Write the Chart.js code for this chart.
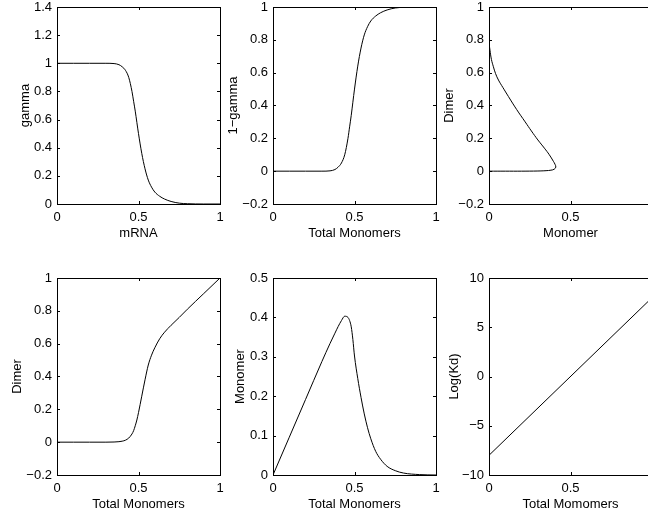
<!DOCTYPE html>
<html>
<head>
<meta charset="utf-8">
<title>gamma panels</title>
<script src="https://cdn.jsdelivr.net/npm/chart.js@4.4.0/dist/chart.umd.min.js"></script>
<style>
  html, body { margin: 0; padding: 0; background: #fff; overflow: hidden; }
  #wrap { position: relative; width: 648px; height: 519px; overflow: hidden; }
  #wrap canvas { position: absolute; }
</style>
</head>
<body>
<div id="wrap"></div>
<script>
// x grid (mRNA / total monomers), shared by the function panels
var total = [0, 0.1, 0.2, 0.3, 0.35, 0.38, 0.4, 0.42, 0.44, 0.46, 0.47, 0.48, 0.49, 0.5,
             0.52, 0.54, 0.56, 0.58, 0.6, 0.63, 0.66, 0.7, 0.75, 0.8, 0.9, 1];
var gamma = [1, 1, 1, 1, 0.998, 0.99, 0.975, 0.95, 0.9, 0.8, 0.73, 0.66, 0.58, 0.5,
             0.36, 0.25, 0.17, 0.12, 0.085, 0.055, 0.035, 0.018, 0.006, 0.002, 0, 0];
var oneMinusGamma = [0, 0, 0, 0, 0.002, 0.01, 0.025, 0.05, 0.1, 0.2, 0.27, 0.34, 0.42, 0.5,
                     0.64, 0.75, 0.83, 0.88, 0.915, 0.945, 0.965, 0.982, 0.994, 0.998, 1, 1];
var dimer = [0, 0, 0, 0, 0.001, 0.003, 0.006, 0.012, 0.025, 0.05, 0.07, 0.1, 0.135, 0.18,
             0.28, 0.38, 0.47, 0.53, 0.575, 0.63, 0.67, 0.712, 0.76, 0.81, 0.905, 1];
var monomer = [0, 0.096, 0.192, 0.288, 0.334, 0.36, 0.377, 0.392, 0.403, 0.4, 0.392, 0.376, 0.344, 0.302,
               0.245, 0.197, 0.155, 0.12, 0.092, 0.06, 0.04, 0.022, 0.011, 0.005, 0.001, 0];

// dimer against monomer (goes out along 0 and comes back up)
var curveMonomer = [0, 0.1, 0.2, 0.3, 0.35, 0.38, 0.4, 0.41, 0.405, 0.395, 0.37, 0.34, 0.3, 0.26,
                    0.222, 0.17, 0.119, 0.085, 0.058, 0.04, 0.027, 0.015, 0.006, 0.002, 0];
var curveDimer = [0, 0, 0, 0.001, 0.003, 0.006, 0.012, 0.025, 0.042, 0.06, 0.1, 0.14, 0.19, 0.245,
                  0.3, 0.375, 0.455, 0.51, 0.555, 0.595, 0.636, 0.68, 0.737, 0.77, 0.81];

var kdX = [0, 1];
var logKd = [-8, 8];

// ticks
var xTicks = [0, 0.5, 1];
var xTickLabels = ['0', '0.5', '1'];
var ticksGamma = [0, 0.2, 0.4, 0.6, 0.8, 1, 1.2, 1.4];
var labelsGamma = ['0', '0.2', '0.4', '0.6', '0.8', '1', '1.2', '1.4'];
var ticksFrac = [-0.2, 0, 0.2, 0.4, 0.6, 0.8, 1];
var labelsFrac = ['\u22120.2', '0', '0.2', '0.4', '0.6', '0.8', '1'];
var ticksMono = [0, 0.1, 0.2, 0.3, 0.4, 0.5];
var labelsMono = ['0', '0.1', '0.2', '0.3', '0.4', '0.5'];
var ticksKd = [-10, -5, 0, 5, 10];
var labelsKd = ['\u221210', '\u22125', '0', '5', '10'];

var FONT = '"Liberation Sans", Arial, Helvetica, sans-serif';

var panels = [
  { col: 0, row: 0, x: total, y: gamma, yMin: 0, yMax: 1.4, yT: ticksGamma, yL: labelsGamma,
    xTitle: 'mRNA', yTitle: 'gamma', titleX: 25.5, mono: true },
  { col: 1, row: 0, x: total, y: oneMinusGamma, yMin: -0.2, yMax: 1, yT: ticksFrac, yL: labelsFrac,
    xTitle: 'Total Monomers', yTitle: '1\u2212gamma', titleX: 17, mono: true },
  { col: 2, row: 0, x: curveMonomer, y: curveDimer, yMin: -0.2, yMax: 1, yT: ticksFrac, yL: labelsFrac,
    xTitle: 'Monomer', yTitle: 'Dimer', titleX: 17.5, mono: false },
  { col: 0, row: 1, x: total, y: dimer, yMin: -0.2, yMax: 1, yT: ticksFrac, yL: labelsFrac,
    xTitle: 'Total Monomers', yTitle: 'Dimer', titleX: 17.5, mono: true },
  { col: 1, row: 1, x: total, y: monomer, yMin: 0, yMax: 0.5, yT: ticksMono, yL: labelsMono,
    xTitle: 'Total Monomers', yTitle: 'Monomer', titleX: 24.3, mono: true },
  { col: 2, row: 1, x: kdX, y: logKd, yMin: -10, yMax: 10, yT: ticksKd, yL: labelsKd,
    xTitle: 'Total Momomers', yTitle: 'Log(Kd)', titleX: 22.5, mono: true }
];

// box round the plot area with small inward ticks on all four sides
var frame = {
  id: 'frame',
  afterDraw: function (chart) {
    var ctx = chart.ctx, a = chart.chartArea;
    var sx = chart.scales.x, sy = chart.scales.y;
    var len = 3;
    ctx.save();
    ctx.strokeStyle = '#000';
    ctx.lineWidth = 1;
    ctx.strokeRect(a.left + 0.5, a.top + 0.5, a.right - a.left, a.bottom - a.top);
    ctx.beginPath();
    sx.ticks.forEach(function (t) {
      var px = Math.round(sx.getPixelForValue(t.value)) + 0.5;
      ctx.moveTo(px, a.bottom); ctx.lineTo(px, a.bottom - len);
      ctx.moveTo(px, a.top); ctx.lineTo(px, a.top + len);
    });
    sy.ticks.forEach(function (t) {
      var py = Math.round(sy.getPixelForValue(t.value)) + 0.5;
      ctx.moveTo(a.left, py); ctx.lineTo(a.left + len, py);
      ctx.moveTo(a.right, py); ctx.lineTo(a.right - len, py);
    });
    ctx.stroke();
    ctx.restore();
  }
};

var wrap = document.getElementById('wrap');

panels.forEach(function (p) {
  var cv = document.createElement('canvas');
  cv.width = 230;
  cv.height = 260;
  cv.style.left = (p.col * 216) + 'px';
  cv.style.top = (p.row * 271) + 'px';
  wrap.appendChild(cv);

  var pts = p.x.map(function (v, i) { return { x: v, y: p.y[i] }; });
  var font = { family: FONT, size: 13 };

  new Chart(cv, {
    type: 'scatter',
    data: {
      datasets: [{
        data: pts,
        showLine: true,
        borderColor: '#000',
        borderWidth: 1,
        pointRadius: 0,
        tension: p.mono ? 0 : 0.4,
        cubicInterpolationMode: p.mono ? 'monotone' : 'default'
      }]
    },
    options: {
      responsive: false,
      animation: false,
      events: [],
      layout: { padding: { left: 0, top: 7, right: 10, bottom: 0 } },
      plugins: { legend: { display: false }, tooltip: { enabled: false } },
      scales: {
        x: {
          type: 'linear', min: 0, max: 1,
          grid: { display: false, drawTicks: false },
          border: { display: false },
          afterBuildTicks: function (s) { s.ticks = xTicks.map(function (v) { return { value: v }; }); },
          afterFit: function (s) { s.height = 56; s.paddingLeft = 0; s.paddingRight = 0; },
          ticks: {
            padding: 5.5, maxRotation: 0, autoSkip: false, color: '#000', font: font,
            callback: function (v, i) { return xTickLabels[i]; }
          },
          title: { display: true, text: p.xTitle, color: '#000', font: font, padding: { top: 0, bottom: 19 } }
        },
        y: {
          type: 'linear', min: p.yMin, max: p.yMax,
          grid: { display: false, drawTicks: false },
          border: { display: false },
          afterBuildTicks: function (s) { s.ticks = p.yT.map(function (v) { return { value: v }; }); },
          afterFit: function (s) { s.width = 57; s.paddingTop = 0; s.paddingBottom = 0; },
          ticks: {
            padding: 5, autoSkip: false, color: '#000', font: font,
            callback: function (v, i) { return p.yL[i]; }
          },
          title: { display: true, text: p.yTitle, color: '#000', font: font, padding: { top: p.titleX - 7.8, bottom: 0 } }
        }
      }
    },
    plugins: [frame]
  });
});
</script>
</body>
</html>
